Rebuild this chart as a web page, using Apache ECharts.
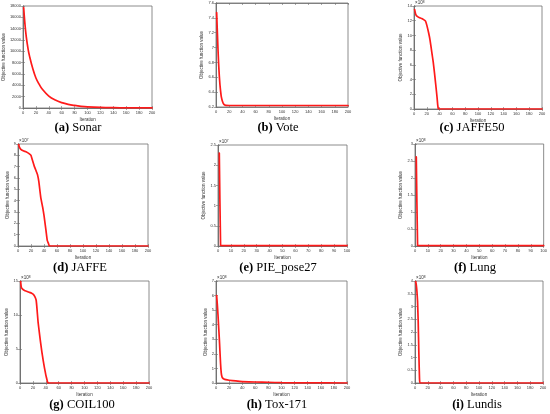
<!DOCTYPE html>
<html>
<head>
<meta charset="utf-8">
<script src="https://cdn.jsdelivr.net/npm/echarts@6/dist/echarts.min.js"></script>
<style>
html,body{margin:0;padding:0;background:#fff;}
#c{width:550px;height:414px;}
</style>
</head>
<body>
<div id="c"></div>
<script>
// ---- data ----
const sonarIter = [1,3,5,8,10,15,20,25,30,40,50,60,70,80,90,100,120,140,160,180,200];
const sonarVal  = [17700,14800,12600,10300,9200,7000,5300,4200,3300,2100,1400,950,650,450,300,200,100,50,25,12,5];

const voteIter = [1,2,3,4,5,6,7,8,10,12,15,20,200];
const voteVal  = [7.47,7.22,6.98,6.78,6.62,6.5,6.41,6.34,6.27,6.235,6.222,6.22,6.22];

const jaffe50Iter = [1,2,3,5,8,12,15,18,20,23,25,28,30,32,34,36,37,38,40,200];
const jaffe50Val  = [13.5,13.1,12.8,12.6,12.45,12.3,12.15,11.95,11.4,10.3,9.4,7.6,6.4,4.9,3.3,1.6,0.6,0.05,0,0];

const jaffeIter = [1,2,4,8,13,17,20,22,25,28,30,32,35,38,40,43,45,47,48,50,200];
const jaffeVal  = [8.95,8.75,8.55,8.4,8.3,8.15,8.0,7.6,7.05,6.6,6.3,5.7,4.3,3.4,2.7,1.4,0.5,0.2,0.02,0,0];

const pieIter = [1,2,3,100];
const pieVal  = [2.3,0.02,0.01,0.01];

const lungIter = [1,2,3,100];
const lungVal  = [2.62,0.02,0.01,0.01];

const coilIter = [1,2,4,7,10,14,18,21,23,25,26,28,30,32,34,36,38,40,42,43,45,200];
const coilVal  = [14.9,14.1,13.8,13.6,13.5,13.35,13.2,13.0,12.7,12.2,11.3,9.0,7.4,5.9,4.5,3.3,2.2,1.2,0.4,0.05,0,0];

const toxIter = [1,2,3,4,5,6,7,8,9,10,12,15,20,30,40,60,80,100,140,200];
const toxVal  = [6.0,5.4,4.7,3.9,3.1,2.2,1.3,0.7,0.45,0.35,0.28,0.23,0.19,0.14,0.1,0.07,0.05,0.02,0.005,0];

const lundisIter = [1,2,3,4,5,6,7,8,200];
const lundisVal  = [3.98,3.85,3.6,3.2,2.4,1.2,0.2,0,0];

const captionLetters = ['(a)','(b)','(c)','(d)','(e)','(f)','(g)','(h)','(i)'];
const captionNames   = ['Sonar','Vote','JAFFE50','JAFFE','PIE_pose27','Lung','COIL100','Tox-171','Lundis'];
const exponentPowers = ['', '', '8', '7', '7', '8', '8', '8', '8'];

const seriesIters = [sonarIter, voteIter, jaffe50Iter, jaffeIter, pieIter, lungIter, coilIter, toxIter, lundisIter];
const seriesVals  = [sonarVal, voteVal, jaffe50Val, jaffeVal, pieVal, lungVal, coilVal, toxVal, lundisVal];

// axis ranges [xMax, xInterval, yMin, yMax, yInterval]
const axisRanges = [
  [200,20,0,18000,2000],
  [200,20,6.2,7.6,0.2],
  [200,20,0,14,2],
  [200,20,0,9,1],
  [100,10,0,2.5,0.5],
  [100,10,0,3,0.5],
  [200,20,0,15,5],
  [200,20,0,7,1],
  [200,20,0,4,0.5]
];

// ---- layout ----
const gridBoxes = [
  [22,6,130,102],[216,3,132,104],[414,6,128,103],
  [18,144,130,102],[218,145,129,101],[415,144,129,102],
  [20,281,129,102],[216,281,131,102],[415,281,128,102]
];
const captionPos = [
  [78,128],[278,128],[472,128],
  [80,268],[278,268],[475,268],
  [82,405],[277,405],[477,405]
];

const frameColor = '#6e6e6e';
const labelColor = '#333';
const tickFont = 'Liberation Sans, Arial, sans-serif';
const fmt = v => String(Number(v.toFixed(2)));

const grid = [], xAxis = [], yAxis = [], series = [], graphic = [];
gridBoxes.forEach((b, i) => {
  grid.push({left:b[0], top:b[1], width:b[2], height:b[3], show:true, borderColor:frameColor, borderWidth:0.8, backgroundColor:'#fff'});
  const r = axisRanges[i];
  const common = {gridIndex:i, type:'value', splitLine:{show:false},
    axisLine:{show:true, lineStyle:{color:frameColor, width:0.8}},
    axisTick:{show:true, inside:true, length:2, lineStyle:{color:frameColor, width:0.6}}};
  xAxis.push(Object.assign({}, common, {position:'bottom', min:0, max:r[0], interval:r[1],
    name:'Iteration', nameLocation:'middle', nameGap:9,
    nameTextStyle:{fontSize:4.5, color:labelColor, fontFamily:tickFont},
    axisLabel:{fontSize:4, margin:2.5, color:labelColor, fontFamily:tickFont, formatter:fmt}}));
  xAxis.push(Object.assign({}, common, {position:'top', min:0, max:r[0], interval:r[1], axisLabel:{show:false}}));
  yAxis.push(Object.assign({}, common, {position:'left', min:r[2], max:r[3], interval:r[4],
    name:'Objective function value', nameLocation:'middle', nameGap: (r[3] >= 1000 ? 11 : 8),
    nameTextStyle:{fontSize:4.5, color:labelColor, fontFamily:tickFont},
    axisLabel:{fontSize:4, margin:2, color:labelColor, fontFamily:tickFont, formatter:fmt}}));
  yAxis.push(Object.assign({}, common, {position:'right', min:r[2], max:r[3], interval:r[4], axisLabel:{show:false}}));

  const it = seriesIters[i], vals = seriesVals[i];
  series.push({
    type:'line', xAxisIndex:2*i, yAxisIndex:2*i,
    data: it.map((x, k) => [x, vals[k]]),
    showSymbol:false, symbol:'none',
    smooth: i === 0 ? 0.4 : 0.12,
    lineStyle:{color:'#ff1a1a', width:1.7, cap:'round', join:'round'},
    animation:false
  });

  if (exponentPowers[i]) {
    graphic.push({type:'text', x:b[0]+1, y:b[1]-0.5, style:{text:'×10', fontSize:4.5, fill:labelColor, fontFamily:tickFont, textVerticalAlign:'bottom'}});
    graphic.push({type:'text', x:b[0]+8.8, y:b[1]-2.3, style:{text:exponentPowers[i], fontSize:3.2, fill:labelColor, fontFamily:tickFont, textVerticalAlign:'bottom'}});
  }
  const cp = captionPos[i];
  graphic.push({type:'text', x:cp[0], y:cp[1], style:{
    text:'{b|' + captionLetters[i] + '} ' + captionNames[i],
    textAlign:'center', textVerticalAlign:'middle',
    fontFamily:'Liberation Serif, Times New Roman, serif', fontSize:12.5, fill:'#000',
    rich:{b:{fontWeight:'bold', fontFamily:'Liberation Serif, Times New Roman, serif', fontSize:12.5, fill:'#000'}}
  }});
});

const chart = echarts.init(document.getElementById('c'), null, {renderer:'canvas'});
chart.setOption({animation:false, backgroundColor:'#fff', grid, xAxis, yAxis, series, graphic});
</script>
</body>
</html>
